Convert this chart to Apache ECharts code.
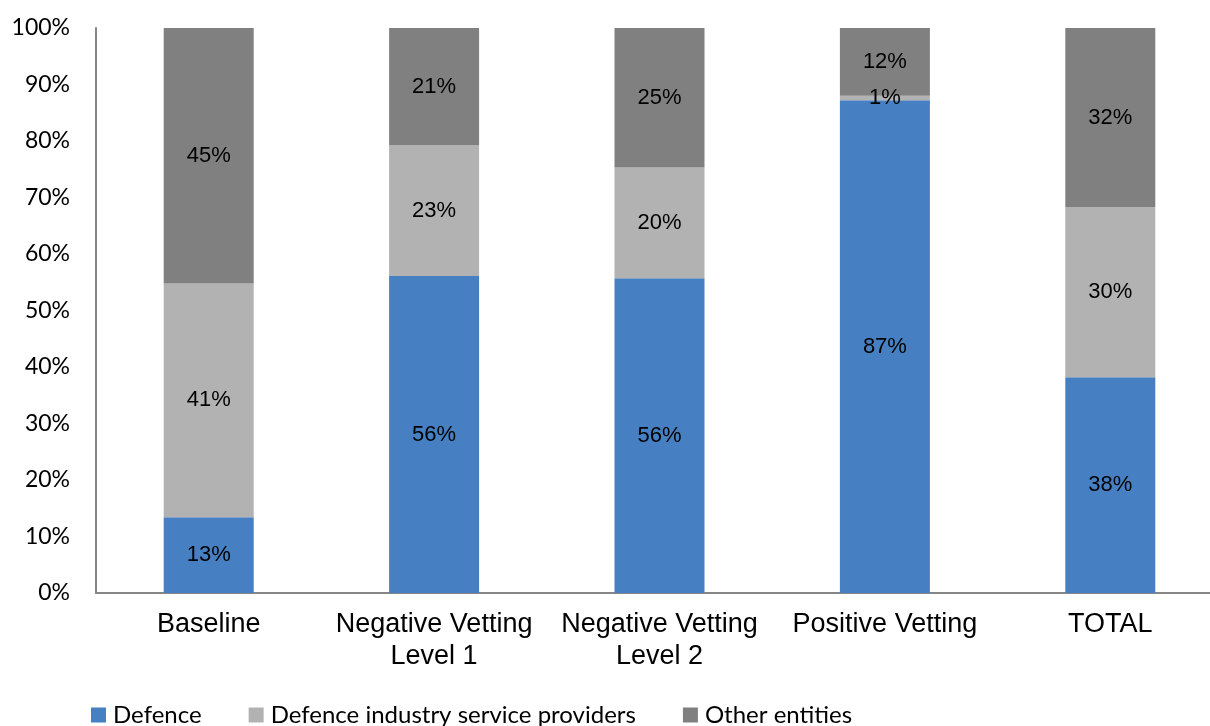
<!DOCTYPE html>
<html>
<head>
<meta charset="utf-8">
<script src="https://cdn.jsdelivr.net/npm/echarts@6/dist/echarts.min.js"></script>
<style>
  html, body { margin: 0; padding: 0; background: #fff; overflow: hidden; }
  #chart { width: 1230px; height: 726px; }
</style>
</head>
<body>
<div id="chart"></div>
<script>
const categories = ['Baseline', 'Negative Vetting\nLevel 1', 'Negative Vetting\nLevel 2', 'Positive Vetting', 'TOTAL'];
const defence = [13.4, 56.1, 55.7, 87.2, 38.2];
const providers = [41.4, 23.2, 19.6, 0.8, 30.1];
const others = [45.2, 20.7, 24.7, 12.0, 31.7];
const yTicks = [0, 10, 20, 30, 40, 50, 60, 70, 80, 90, 100];

const labelFont = 'Liberation Sans, Arial, sans-serif';
const calibriLike = 'Lato, Open Sans, sans-serif';

function makeSeries(name, data, color) {
  return {
    name: name,
    type: 'bar',
    stack: 'total',
    barWidth: 90,
    data: data,
    itemStyle: { color: color },
    label: {
      show: true,
      position: 'inside',
      color: '#000',
      fontSize: 22,
      fontFamily: labelFont,
      formatter: p => Math.round(p.value) + '%'
    }
  };
}

// chart div is a little wider than the window so the last category can overflow the right edge
const chart = echarts.init(document.getElementById('chart'));
chart.setOption({
  animation: false,
  grid: { left: 96, top: 28, width: 1127, height: 565, containLabel: false },
  legend: {
    left: 86,
    top: 698,
    itemWidth: 15,
    itemHeight: 15,
    itemGap: 47,
    icon: 'rect',
    textStyle: { fontSize: 24, fontFamily: calibriLike, color: '#000', padding: [0, 0, 0, 2] },
    data: ['Defence', 'Defence industry service providers', 'Other entities']
  },
  xAxis: {
    type: 'category',
    data: categories,
    axisLine: { lineStyle: { color: '#868686', width: 2 } },
    axisTick: { show: false },
    axisLabel: {
      color: '#000',
      fontSize: 27,
      fontFamily: labelFont,
      lineHeight: 32,
      margin: 16,
      interval: 0
    }
  },
  yAxis: {
    type: 'value',
    min: yTicks[0],
    max: yTicks[yTicks.length - 1],
    interval: 10,
    splitLine: { show: false },
    axisLine: { show: true, lineStyle: { color: '#868686', width: 2 } },
    axisTick: { show: false },
    axisLabel: {
      color: '#000',
      fontSize: 23,
      fontFamily: calibriLike,
      margin: 26,
      formatter: v => v + '%'
    }
  },
  series: [
    makeSeries('Defence', defence, '#4680c2'),
    makeSeries('Defence industry service providers', providers, '#b2b2b2'),
    makeSeries('Other entities', others, '#808080')
  ]
});
</script>
</body>
</html>
